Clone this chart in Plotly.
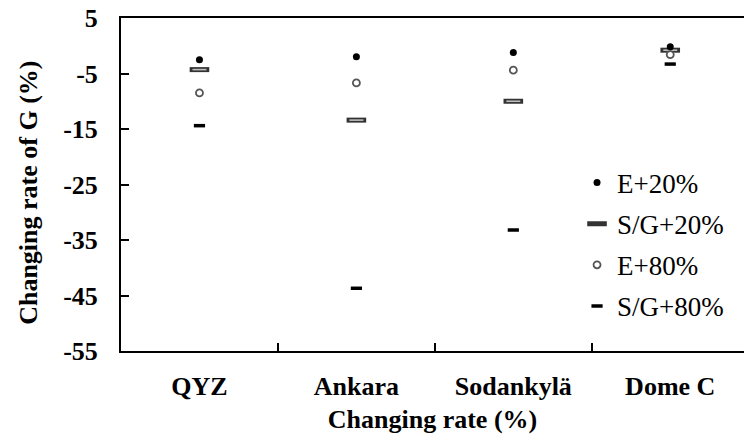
import plotly.graph_objects as go

sites = ["QYZ", "Ankara", "Sodankylä", "Dome C"]
e20 = [-2.5, -2.0, -1.2, -0.2]
sg20 = [-4.3, -13.4, -10.0, -0.8]
e80 = [-8.5, -6.7, -4.4, -1.6]
sg80 = [-14.4, -43.7, -33.2, -3.3]
y_ticks = [5, -5, -15, -25, -35, -45, -55]
y_tick_text = ["5", "-5", "-15", "-25", "-35", "-45", "-55"]

serif = "Liberation Serif, Times New Roman, serif"
bold_font = dict(family=serif, size=26, color="black", weight="bold")

fig = go.Figure()

# S/G+20%: grey bar with dark outline (outline + inner fill)
fig.add_trace(go.Scatter(
    x=sites, y=sg20, mode="markers", name="S/G+20%",
    legendgroup="b", legendrank=2,
    marker=dict(symbol="line-ew", size=14, color="#333333",
                line=dict(width=5, color="#333333")),
))
fig.add_trace(go.Scatter(
    x=sites, y=sg20, mode="markers", showlegend=False, legendgroup="b",
    marker=dict(symbol="line-ew", size=10, color="#bdbdbd",
                line=dict(width=1.6, color="#bdbdbd")),
    hoverinfo="skip",
))
# E+80%: open circle
fig.add_trace(go.Scatter(
    x=sites, y=e80, mode="markers", name="E+80%",
    legendgroup="c", legendrank=3,
    marker=dict(symbol="circle", size=7, color="white",
                line=dict(width=1.8, color="#555555")),
))
# E+20%: filled black dot
fig.add_trace(go.Scatter(
    x=sites, y=e20, mode="markers", name="E+20%",
    legendgroup="a", legendrank=1,
    marker=dict(symbol="circle", size=7, color="black",
                line=dict(width=0, color="black")),
))
# S/G+80%: short black dash
fig.add_trace(go.Scatter(
    x=sites, y=sg80, mode="markers", name="S/G+80%",
    legendgroup="d", legendrank=4,
    marker=dict(symbol="line-ew", size=8, color="black",
                line=dict(width=3.5, color="black")),
))

fig.update_layout(
    width=744, height=438,
    margin=dict(l=121, r=0, t=18, b=87),
    paper_bgcolor="white", plot_bgcolor="white",
    font=dict(family=serif, color="black"),
    legend=dict(
        x=0.732, y=0.578, xanchor="left", yanchor="top",
        font=dict(family=serif, size=27, color="black"),
        bgcolor="rgba(0,0,0,0)", borderwidth=0,
        tracegroupgap=3, itemsizing="trace",
    ),
    xaxis=dict(
        type="category", categoryorder="array", categoryarray=sites,
        range=[-0.5, 3.47], tickson="boundaries",
        ticks="inside", ticklen=8, tickwidth=2, tickcolor="black",
        showline=True, linewidth=2, linecolor="black", mirror=True,
        showgrid=False, zeroline=False,
        tickfont=bold_font,
        ticklabelstandoff=11,
        title=dict(text="Changing rate (%)", standoff=10, font=bold_font),
    ),
    yaxis=dict(
        range=[-55, 5], tickvals=y_ticks, ticktext=y_tick_text,
        ticks="inside", ticklen=8, tickwidth=2, tickcolor="black",
        showline=True, linewidth=2, linecolor="black", mirror=False,
        showgrid=False, zeroline=False,
        tickfont=bold_font,
        ticklabelstandoff=16,
    ),
    annotations=[dict(
        text="Changing rate of G (%)", textangle=-90,
        xref="paper", yref="paper", x=0, y=0.475,
        xanchor="center", yanchor="middle", xshift=-92,
        showarrow=False, font=bold_font,
    )],
)

fig.write_html("out.html")
